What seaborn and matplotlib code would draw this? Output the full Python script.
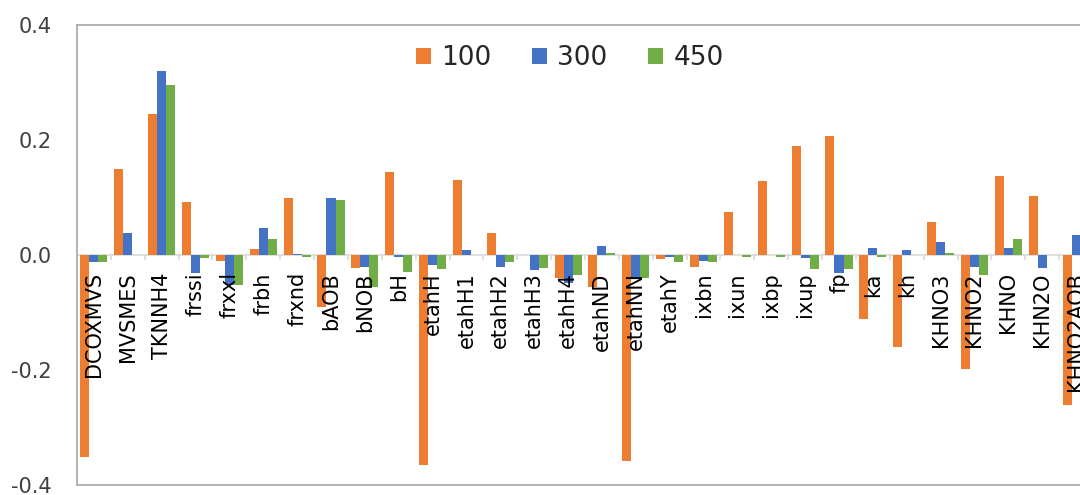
import pandas as pd
import matplotlib.pyplot as plt
import seaborn as sns

# parameter names (x categories)
params = ['DCOXMVS', 'MVSMES', 'TKNNH4', 'frssi', 'frxxl', 'frbh', 'frxnd',
          'bAOB', 'bNOB', 'bH', 'etahH', 'etahH1', 'etahH2', 'etahH3',
          'etahH4', 'etahND', 'etahNN', 'etahY', 'ixbn', 'ixun', 'ixbp',
          'ixup', 'fp', 'ka', 'kh', 'KHNO3', 'KHNO2', 'KHNO', 'KHN2O',
          'KHNO2AOB']

series_names = ['100', '300', '450']

vals_100 = [-0.351, 0.149, 0.246, 0.093, -0.010, 0.010, 0.100,
            -0.090, -0.023, 0.145, -0.365, 0.130, 0.038, 0.0,
            -0.040, -0.055, -0.358, -0.007, -0.021, 0.075, 0.128,
            0.190, 0.207, -0.111, -0.160, 0.058, -0.198, 0.138, 0.103,
            -0.261]
vals_300 = [-0.013, 0.038, 0.320, -0.032, -0.052, 0.047, 0.002,
            0.100, -0.020, -0.003, -0.017, 0.008, -0.020, -0.026,
            -0.048, 0.016, -0.040, -0.003, -0.010, 0.0, 0.0,
            -0.006, -0.032, 0.013, 0.008, 0.023, -0.020, 0.013, -0.023,
            0.035]
vals_450 = [-0.013, 0.0, 0.295, -0.005, -0.052, 0.028, -0.003,
            0.096, -0.055, -0.030, -0.024, 0.0, -0.013, -0.023,
            -0.035, 0.003, -0.040, -0.013, -0.013, -0.003, -0.003,
            -0.024, -0.024, -0.003, 0.0, 0.003, -0.034, 0.027, 0.0,
            0.0]

colors = ['#ED7D31', '#4472C4', '#70AD47']

df = pd.DataFrame({
    'param': params * 3,
    'series': [s for s in series_names for _ in params],
    'value': vals_100 + vals_300 + vals_450,
})

fig = plt.figure(figsize=(10.8, 4.95), dpi=100)
# plot area runs past the right edge, as in the cropped original
ax = fig.add_axes([77 / 1080, 10 / 495, 1016 / 1080, 460 / 495])

sns.barplot(data=df, x='param', y='value', hue='series', order=params,
            hue_order=series_names, palette=colors, saturation=1,
            width=0.8, gap=0, linewidth=0, ax=ax)

n = len(params)
ax.set_xlim(-0.5, n - 0.5)
ax.set_ylim(-0.4, 0.4)
ax.set_yticks([-0.4, -0.2, 0.0, 0.2, 0.4])
ax.set_yticklabels(['-0.4', '-0.2', '0.0', '0.2', '0.4'])
ax.set_xticks([])
ax.set_xlabel('')
ax.set_ylabel('')
ax.tick_params(axis='y', length=0, pad=18, labelsize=15, labelcolor='#404040')

for side in ['top', 'bottom', 'left']:
    ax.spines[side].set_color('#A6A6A6')
    ax.spines[side].set_linewidth(1.2)
ax.spines['right'].set_visible(False)

# zero axis line with tick marks between categories
ax.axhline(0, color='#D9D9D9', linewidth=1.2, zorder=0)
ax.vlines([i - 0.5 for i in range(1, n)], -0.009, 0, color='#D9D9D9',
          linewidth=1.2, zorder=0)

# category labels sit just under the zero line
for i, name in enumerate(params):
    ax.text(i, -0.03, name, rotation=90, ha='center', va='top',
            fontsize=15, color='#000000')

ax.legend(loc='center', bbox_to_anchor=(0.485, 0.928), ncol=3,
          frameon=False, fontsize=19, handlelength=0.57, handleheight=0.57,
          handletextpad=0.38, columnspacing=1.55, labelcolor='#262626')

fig.savefig('out.png', dpi=100)
